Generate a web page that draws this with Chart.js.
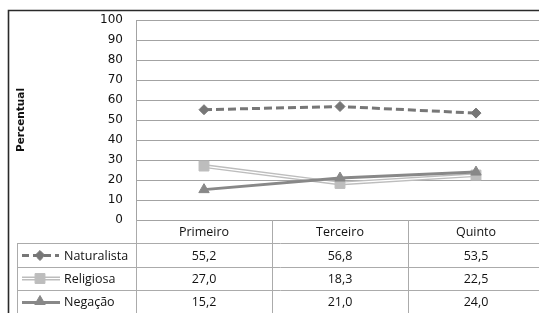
<!DOCTYPE html>
<html><head><meta charset="utf-8">
<script src="https://cdn.jsdelivr.net/npm/chart.js@4/dist/chart.umd.min.js"></script>
<style>
html,body{margin:0;padding:0;background:#fff;overflow:hidden;}
#wrap{position:relative;width:539px;height:313px;overflow:hidden;}
canvas{position:absolute;left:0;top:0;}
</style></head>
<body><div id="wrap"><canvas id="c" width="560" height="313"></canvas></div>
<script>
const categories = ["Primeiro", "Terceiro", "Quinto"];
const seriesNames = ["Naturalista", "Religiosa", "Negação"];
const naturalista = [55.2, 56.8, 53.5];
const religiosa = [27.0, 18.3, 22.5];
const negacao = [15.2, 21.0, 24.0];
const yTicks = [0, 10, 20, 30, 40, 50, 60, 70, 80, 90, 100];
const axisTitle = "Percentual";

const fmt = v => v.toFixed(1).replace('.', ',');
const GRID = '#a3a3a3';
const TABLE = '#ababab';
const C_NAT = '#777777', C_REL = '#bdbdbd', C_NEG = '#888888';

function drawMarker(ctx, style, x, y, r, color) {
  ctx.save();
  ctx.fillStyle = color; ctx.strokeStyle = color; ctx.lineWidth = 1;
  ctx.beginPath();
  if (style === 'rectRot') {
    ctx.moveTo(x, y - r); ctx.lineTo(x + r, y); ctx.lineTo(x, y + r); ctx.lineTo(x - r, y);
  } else if (style === 'rect') {
    const s = r * Math.SQRT1_2;
    ctx.rect(x - s, y - s, 2 * s, 2 * s);
  } else {
    const h = r * Math.sin(Math.PI / 3);
    ctx.moveTo(x, y - r); ctx.lineTo(x + h, y + r / 2); ctx.lineTo(x - h, y + r / 2);
  }
  ctx.closePath(); ctx.fill(); ctx.stroke();
  ctx.restore();
}

const tablePlugin = {
  id: 'tablePlugin',
  afterDraw(chart) {
    const ctx = chart.ctx;
    const area = chart.chartArea;
    const xs = chart.scales.x;
    const left = area.left, right = area.right, top0 = area.bottom;
    const rowH = 23.3;
    const colW = (right - left) / categories.length;
    const legendLeft = 17;
    ctx.save();
    ctx.strokeStyle = TABLE; ctx.lineWidth = 1;
    ctx.beginPath();
    for (let i = 1; i <= 4; i++) {
      const y = Math.round(top0 + i * rowH) + 0.5;
      ctx.moveTo(legendLeft, y); ctx.lineTo(right, y);
    }
    for (let i = 1; i <= categories.length; i++) {
      const x = Math.round(left + i * colW) + 0.5;
      ctx.moveTo(x, top0); ctx.lineTo(x, top0 + 4 * rowH);
    }
    ctx.moveTo(Math.round(left) + 0.5, top0); ctx.lineTo(Math.round(left) + 0.5, top0 + 4 * rowH);
    ctx.moveTo(legendLeft + 0.5, top0 + rowH); ctx.lineTo(legendLeft + 0.5, top0 + 4 * rowH);
    ctx.stroke();
    ctx.fillStyle = '#111';
    ctx.font = '12.5px "Open Sans"';
    ctx.textAlign = 'center'; ctx.textBaseline = 'middle';
    categories.forEach((c, i) => {
      ctx.fillText(c, xs.getPixelForValue(i), top0 + rowH / 2 + 1);
    });
    const series = [naturalista, religiosa, negacao];
    series.forEach((arr, r) => {
      const cy = top0 + rowH * (r + 1.5) + 1;
      arr.forEach((v, i) => {
        ctx.textAlign = 'center';
        ctx.fillText(fmt(v), xs.getPixelForValue(i), cy);
      });
      ctx.textAlign = 'left';
      ctx.fillText(seriesNames[r], 64, cy);
      const ly = Math.round(top0 + rowH * (r + 1.5)) + 0.5;
      ctx.save();
      if (r === 0) {
        ctx.strokeStyle = C_NAT; ctx.lineWidth = 3; ctx.setLineDash([7, 4]);
        ctx.beginPath(); ctx.moveTo(22, ly); ctx.lineTo(59, ly); ctx.stroke();
        drawMarker(ctx, 'rectRot', 40, ly, 5, C_NAT);
      } else if (r === 1) {
        ctx.strokeStyle = C_REL; ctx.lineWidth = 4;
        ctx.beginPath(); ctx.moveTo(22, ly); ctx.lineTo(60, ly); ctx.stroke();
        ctx.strokeStyle = '#ffffff'; ctx.lineWidth = 1.2;
        ctx.beginPath(); ctx.moveTo(22, ly); ctx.lineTo(60, ly); ctx.stroke();
        drawMarker(ctx, 'rect', 40, ly, 7, C_REL);
      } else {
        ctx.strokeStyle = C_NEG; ctx.lineWidth = 3;
        ctx.beginPath(); ctx.moveTo(22, ly); ctx.lineTo(60, ly); ctx.stroke();
        drawMarker(ctx, 'triangle', 40, ly - 1, 6, C_NEG);
      }
      ctx.restore();
    });
    ctx.save();
    ctx.translate(21, 120);
    ctx.rotate(-Math.PI / 2);
    ctx.font = 'bold 10.5px "DejaVu Sans"';
    ctx.textAlign = 'center'; ctx.textBaseline = 'middle';
    ctx.fillStyle = '#111';
    ctx.fillText(axisTitle, 0, 0);
    ctx.restore();
    ctx.strokeStyle = '#2a2a2a'; ctx.lineWidth = 1.6;
    ctx.beginPath();
    ctx.moveTo(8.5, 330); ctx.lineTo(8.5, 10.5); ctx.lineTo(600, 10.5);
    ctx.stroke();
    ctx.restore();
  }
};

new Chart(document.getElementById('c'), {
  type: 'line',
  data: {
    labels: categories,
    datasets: [
      { label: seriesNames[0], data: naturalista, borderColor: C_NAT, backgroundColor: C_NAT,
        borderWidth: 3, borderDash: [8, 4], pointStyle: 'rectRot', pointRadius: 5,
        pointBorderWidth: 1, tension: 0, order: 1 },
      { label: seriesNames[1], data: religiosa, borderColor: C_REL, backgroundColor: C_REL,
        borderWidth: 4, pointRadius: 0, tension: 0, order: 5 },
      { label: seriesNames[1] + '_inner', data: religiosa, borderColor: '#ffffff', backgroundColor: '#ffffff',
        borderWidth: 1.2, pointRadius: 0, tension: 0, order: 4 },
      { label: seriesNames[1] + '_pts', data: religiosa, borderColor: C_REL, backgroundColor: C_REL,
        showLine: false, pointStyle: 'rect', pointRadius: 7, pointBorderWidth: 1, order: 3 },
      { label: seriesNames[2], data: negacao, borderColor: C_NEG, backgroundColor: C_NEG,
        borderWidth: 3, pointStyle: 'triangle', pointRadius: 6, pointBorderWidth: 1, tension: 0, order: 2 }
    ]
  },
  options: {
    responsive: false,
    animation: false,
    devicePixelRatio: 1,
    layout: { padding: { left: 0, top: 20, right: 16, bottom: 93 } },
    plugins: { legend: { display: false }, tooltip: { enabled: false } },
    scales: {
      x: { display: false, offset: true },
      y: {
        min: 0, max: 100,
        afterBuildTicks(s) { s.ticks = yTicks.map(v => ({ value: v })); },
        afterFit(s) { s.width = 136; },
        border: { display: true, color: GRID, width: 1 },
        grid: { color: GRID, lineWidth: 1, drawTicks: false },
        ticks: { padding: 13, color: '#111', font: { family: 'DejaVu Sans', size: 12 } }
      }
    }
  },
  plugins: [tablePlugin]
});
</script></body></html>
